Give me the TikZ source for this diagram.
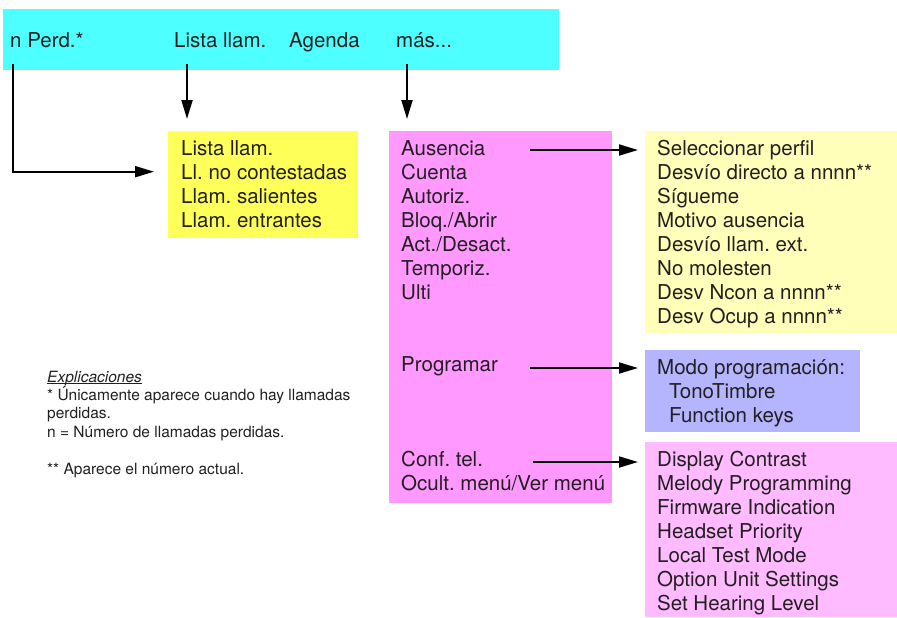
\documentclass[tikz,border=0pt]{standalone}
\usepackage{fontspec}
\setmainfont{TeX Gyre Heros}
\frenchspacing
\usetikzlibrary{arrows.meta}
\definecolor{barcyan}{RGB}{77,255,255}
\definecolor{listyellow}{RGB}{255,255,90}
\definecolor{menupink}{RGB}{255,153,255}
\definecolor{paleyellow}{RGB}{255,255,185}
\definecolor{progblue}{RGB}{180,180,255}
\definecolor{lightpink}{RGB}{255,187,255}
\definecolor{ink}{RGB}{35,31,32}
\begin{document}
\begin{tikzpicture}[x=1pt,y=-1pt]
\tikzset{panel/.style = {anchor=north west, inner sep=0, outer sep=0}}
\tikzset{item/.style = {anchor=base west, inner sep=0, text=ink, font=\fontsize{20.5}{24}\selectfont}}
\tikzset{note/.style = {anchor=base west, inner sep=0, text=ink, font=\fontsize{15.5}{18}\selectfont}}
\tikzset{edge/.style = {-{Triangle[length=19pt,width=11pt]}, line width=2pt, draw=black}}
\useasboundingbox (0,0) rectangle (897,618);
% coloured panels
\node[panel, fill=barcyan, minimum width=556pt, minimum height=61pt] (bar) at (3,9) {};
\node[panel, fill=listyellow, minimum width=190pt, minimum height=107pt] (lista) at (168,131) {};
\node[panel, fill=menupink, minimum width=223pt, minimum height=372pt] (mas) at (389,131) {};
\node[panel, fill=paleyellow, minimum width=252pt, minimum height=202pt] (aus) at (645,131) {};
\node[panel, fill=progblue, minimum width=215pt, minimum height=82pt] (prog) at (645,350) {};
\node[panel, fill=lightpink, minimum width=252pt, minimum height=175pt] (conf) at (645,442) {};
% softkey bar
\node[item] (perd) at (10,48) {n Perd.*};
\node[item] (llam) at (174,48) {Lista llam.};
\node[item] (agenda) at (289,48) {Agenda};
\node[item] (more) at (396,48) {más...};
% menus
\foreach \t [count=\i from 0] in {Lista llam., Ll. no contestadas, Llam. salientes, Llam. entrantes}
  \node[item] (l\i) at (181,155+24*\i) {\t};
\foreach \t [count=\i from 0] in {Ausencia, Cuenta, Autoriz., Bloq./Abrir, Act./Desact., Temporiz., Ulti}
  \node[item] (m\i) at (401,155+24*\i) {\t};
\node[item] (m7) at (401,371) {Programar};
\node[item] (m8) at (401,466) {Conf. tel.};
\node[item] (m9) at (401,490) {Ocult. menú/Ver menú};
\foreach \t [count=\i from 0] in {Seleccionar perfil, Desvío directo a nnnn**, Sígueme, Motivo ausencia, Desvío llam. ext., No molesten, Desv Ncon a nnnn**, Desv Ocup a nnnn**}
  \node[item] (s\i) at (657,155+24*\i) {\t};
\node[item] (p0) at (657,374) {Modo programación:};
\node[item] (p1) at (669,398) {TonoTimbre};
\node[item] (p2) at (669,422) {Function keys};
\foreach \t [count=\i from 0] in {Display Contrast, Melody Programming, Firmware Indication, Headset Priority, Local Test Mode, Option Unit Settings, Set Hearing Level}
  \node[item] (c\i) at (657,466+24*\i) {\t};
% explanations
\node[note] (expl) at (47,382) {\textit{Explicaciones}};
\draw[ink, line width=0.8pt] ([yshift=-1.6pt]expl.base west) -- ([yshift=-1.6pt]expl.base east);
\node[note] (n1) at (47,400) {* Únicamente aparece cuando hay llamadas};
\node[note] (n2) at (47,418) {perdidas.};
\node[note] (n3) at (47,437) {n = Número de llamadas perdidas.};
\node[note] (n4) at (47,474) {** Aparece el número actual.};
% arrows
\coordinate (d0) at (13,64);
\coordinate (d1) at (187,64);
\coordinate (d2) at (407,64);
\draw[edge, shorten >=27pt] (d0) |- (l1.west);
\draw[edge, shorten >=12pt] (d1) -- (d1 |- lista.north);
\draw[edge, shorten >=12pt] (d2) -- (d2 |- mas.north);
\coordinate (a1) at (530,150);
\coordinate (a2) at (530,368);
\coordinate (a3) at (533,462);
\draw[edge, shorten >=7pt] (a1) -- (a1 -| aus.west);
\draw[edge, shorten >=7pt] (a2) -- (a2 -| prog.west);
\draw[edge, shorten >=7pt] (a3) -- (a3 -| conf.west);
\end{tikzpicture}
\end{document}
